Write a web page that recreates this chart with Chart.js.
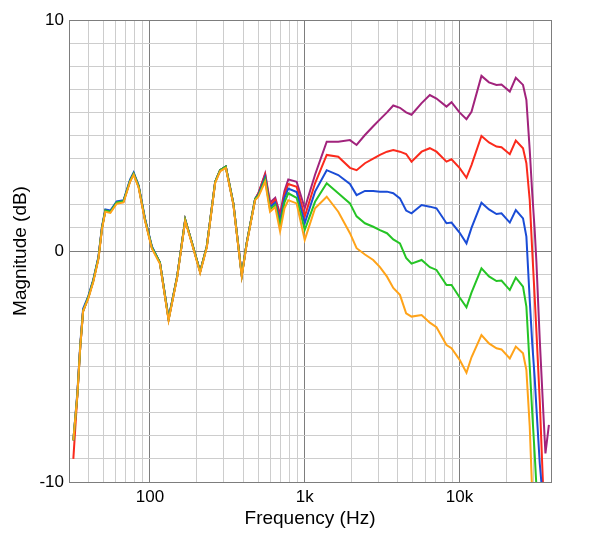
<!DOCTYPE html>
<html>
<head>
<meta charset="utf-8">
<script src="https://cdn.jsdelivr.net/npm/chart.js@4.4.1/dist/chart.umd.min.js"></script>
<style>
  html, body { margin: 0; padding: 0; background: #fff; }
  #wrap { width: 600px; height: 541px; }
</style>
</head>
<body>
<div id="wrap"><canvas id="chart" width="600" height="541"></canvas></div>
<script>
// frequency points (Hz)
const freqHz = [32, 34, 35.5, 37, 40, 43, 46.5, 49, 51.5, 55.5, 61, 67.5, 74.5, 78.5, 84.5, 93, 103, 116, 132, 150,
  169, 187, 211, 233, 264, 284, 309, 346, 392, 422, 478, 502, 555, 597, 645, 693, 740, 783, 887, 1000,
  1166, 1387, 1647, 1960, 2163, 2449, 2770, 3062, 3400, 3733, 4122, 4520, 4897, 5690, 6430, 7100, 8240, 8880, 10000, 11090,
  11950, 13860, 15500, 17330, 18670, 21130, 23100, 25720, 27040, 28420, 29500, 30600, 31400, 33000, 34800, 35900, 37800]

// magnitude (dB) for each curve
const purple = [-8.2, -6.2, -4.1, -2.6, -2.0, -1.3, -0.3, 1.0, 1.75, 1.7, 2.1, 2.15, 3.05, 3.35, 2.8, 1.35, 0.15, -0.5, -2.95, -1.1,
  1.35, 0.35, -0.9, 0.2, 3.0, 3.5, 3.65, 2.05, -1.05, 0.35, 2.25, 2.5, 3.35, 2.1, 2.3, 1.6, 2.6, 3.1, 3.0, 1.85,
  3.3, 4.73, 4.73, 4.8, 4.59, 5.02, 5.4, 5.7, 6.0, 6.3, 6.2, 6.0, 5.9, 6.4, 6.75, 6.6, 6.25, 6.44, 6.0, 5.71,
  6.03, 7.58, 7.3, 7.19, 7.21, 6.9, 7.5, 7.19, 6.54, 4.37, 2.5, 0.9, -0.5, -3.85, -7.0, -8.76, -7.53]
const red = [-9.0, -6.2, -4.1, -2.6, -2.0, -1.3, -0.3, 1.0, 1.75, 1.7, 2.1, 2.15, 3.05, 3.35, 2.8, 1.35, 0.15, -0.5, -2.95, -1.1,
  1.35, 0.35, -0.9, 0.2, 3.0, 3.5, 3.65, 2.05, -1.05, 0.35, 2.25, 2.5, 3.3, 2.0, 2.2, 1.45, 2.45, 2.9, 2.78, 1.49,
  2.93, 4.16, 4.08, 3.6, 3.5, 3.8, 4.0, 4.16, 4.3, 4.37, 4.3, 4.2, 3.87, 4.3, 4.45, 4.3, 3.87, 3.97, 3.6, 3.17,
  3.72, 4.98, 4.7, 4.52, 4.49, 4.19, 4.78, 4.45, 3.8, 2.2, 0.0, -2.0, -3.5, -6.5, -10.5, null, null]
const blue = [-8.2, -6.1, -4.0, -2.5, -1.95, -1.25, -0.25, 1.05, 1.8, 1.75, 2.15, 2.2, 3.1, 3.4, 2.85, 1.4, 0.2, -0.5, -2.9, -1.1,
  1.35, 0.35, -0.9, 0.2, 3.0, 3.5, 3.65, 2.05, -1.05, 0.35, 2.25, 2.45, 3.2, 1.9, 2.1, 1.3, 2.3, 2.7, 2.55, 1.2,
  2.57, 3.5, 3.29, 2.9, 2.42, 2.6, 2.6, 2.57, 2.57, 2.5, 2.28, 1.75, 1.63, 1.99, 1.92, 1.85, 1.2, 1.23, 0.8, 0.33,
  1.0, 2.09, 1.8, 1.6, 1.63, 1.23, 1.77, 1.41, 0.62, -2.12, -4.0, -5.5, -6.8, -9.2, -11, null, null]
const green = [-8.2, -6.2, -4.1, -2.6, -2.0, -1.3, -0.3, 1.0, 1.75, 1.7, 2.1, 2.15, 3.05, 3.35, 2.8, 1.35, 0.15, -0.5, -2.95, -1.1,
  1.35, 0.35, -0.9, 0.2, 3.0, 3.5, 3.65, 2.05, -1.05, 0.35, 2.25, 2.4, 3.1, 1.8, 2.0, 1.1, 2.1, 2.5, 2.3, 0.91,
  2.13, 2.93, 2.5, 2.06, 1.5, 1.2, 1.05, 0.9, 0.77, 0.5, 0.33, -0.3, -0.55, -0.39, -0.7, -0.82, -1.47, -1.47, -2.0, -2.44,
  -1.8, -0.75, -1.1, -1.3, -1.28, -1.69, -1.15, -1.54, -2.41, -5.0, -7.0, -8.8, -10.2, null, null, null, null]
const orange = [-8.2, -6.2, -4.1, -2.6, -2.05, -1.35, -0.35, 0.95, 1.7, 1.65, 2.05, 2.1, 3.0, 3.3, 2.75, 1.3, 0.1, -0.55, -3.0, -1.15,
  1.3, 0.3, -0.95, 0.15, 2.95, 3.45, 3.6, 2.0, -1.1, 0.3, 2.2, 2.35, 3.0, 1.7, 1.9, 0.85, 1.85, 2.2, 2.06, 0.48,
  1.85, 2.35, 1.7, 0.77, 0.12, -0.15, -0.39, -0.7, -1.11, -1.6, -1.9, -2.7, -2.84, -2.77, -3.1, -3.3, -4.07, -4.21, -4.7, -5.27,
  -4.6, -3.64, -4.0, -4.21, -4.26, -4.65, -4.14, -4.43, -5.15, -7.6, -10.5, null, null, null, null, null, null]

// grid lines and labels
const xGridHz = [30, 40, 50, 60, 70, 80, 90, 100, 200, 300, 400, 500, 600, 700, 800, 900, 1000,
  2000, 3000, 4000, 5000, 6000, 7000, 8000, 9000, 10000, 20000, 30000, 39000]
const xMajorHz = [30, 100, 1000, 10000, 39000]
const xLabels = { 100: "100", 1000: "1k", 10000: "10k" }
const yLabels = [-10, 0, 10]

const FONT = "'Liberation Sans', Arial, Helvetica, sans-serif"
const lightGrid = "#cdcdcd"
const darkGrid = "#7d7d7d"

const toPoints = (ys) => freqHz.map((f, i) => ({ x: f, y: ys[i] }))

// first dataset ends up on top, like the orange trace in the picture
const series = [
  { label: "orange", data: orange, color: "#ffa319" },
  { label: "green", data: green, color: "#25c425" },
  { label: "blue", data: blue, color: "#1a4cd6" },
  { label: "red", data: red, color: "#fb2a1c" },
  { label: "purple", data: purple, color: "#a1237c" },
]

new Chart(document.getElementById("chart"), {
  type: "line",
  data: {
    datasets: series.map(s => ({
      label: s.label,
      data: toPoints(s.data),
      borderColor: s.color,
      borderWidth: 2,
      pointRadius: 0,
      tension: 0,
      fill: false,
    })),
  },
  options: {
    responsive: false,
    animation: false,
    devicePixelRatio: 1,
    layout: { padding: { top: 20, right: 49, left: 0, bottom: 0 } },
    plugins: { legend: { display: false }, tooltip: { enabled: false } },
    scales: {
      x: {
        type: "logarithmic",
        min: 30,
        max: 39000,
        afterBuildTicks: (scale) => { scale.ticks = xGridHz.map(v => ({ value: v })) },
        afterFit: (scale) => { scale.height = 59 },
        grid: {
          drawTicks: false,
          color: (ctx) => xMajorHz.includes(ctx.tick && ctx.tick.value) ? darkGrid : lightGrid,
        },
        border: { color: darkGrid },
        ticks: {
          autoSkip: false,
          maxRotation: 0,
          padding: 5,
          color: "#000",
          font: { family: FONT, size: 17 },
          callback: (v) => xLabels[v] || "",
        },
        title: {
          display: true,
          text: "Frequency (Hz)",
          color: "#000",
          font: { family: FONT, size: 19 },
          padding: { top: 0, bottom: 11 },
        },
      },
      y: {
        min: -10,
        max: 10,
        afterFit: (scale) => { scale.width = 69 },
        grid: {
          drawTicks: false,
          color: (ctx) => yLabels.includes(ctx.tick && ctx.tick.value) ? darkGrid : lightGrid,
        },
        border: { color: darkGrid },
        ticks: {
          stepSize: 1,
          autoSkip: false,
          padding: 5,
          color: "#000",
          font: { family: FONT, size: 17 },
          callback: (v) => yLabels.includes(v) ? String(v) : "",
        },
        title: {
          display: true,
          text: "Magnitude (dB)",
          color: "#000",
          font: { family: FONT, size: 19 },
          padding: { top: 9, bottom: 0 },
        },
      },
    },
  },
})
</script>
</body>
</html>
